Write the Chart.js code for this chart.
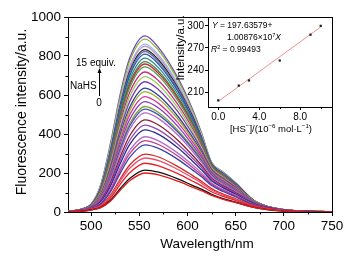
<!DOCTYPE html>
<html>
<head>
<meta charset="utf-8">
<script src="https://cdn.jsdelivr.net/npm/chart.js@4.4.0/dist/chart.umd.min.js"></script>
<style>
  html, body { margin:0; padding:0; background:#fff; }
  #wrap { position:relative; width:356px; height:260px; }
  #wrap canvas { position:absolute; left:0; top:0; }
</style>
</head>
<body>
<div id="wrap">
  <canvas id="main" width="356" height="260"></canvas>
  <canvas id="inset" width="356" height="260"></canvas>
</div>
<script>
// ---------- Data ----------
const wavelengths = [476, 490, 500, 510, 520, 530, 540, 556, 570, 590, 605, 615, 625, 637, 650, 670, 700, 750];

// emission spectra, 0 -> 15 equiv. NaHS (bottom to top)
const spectra = [
  [1, 4, 10, 22, 55, 110, 160, 200, 190, 158, 128, 108, 85, 65, 48, 22, 5, 0],
  [1, 4, 11, 24, 60, 119, 172, 215, 204, 170, 137, 116, 91, 69, 51, 23, 5, 0],
  [1, 5, 12, 28, 71, 140, 201, 250, 237, 197, 159, 133, 104, 80, 59, 27, 6, 0],
  [1, 6, 14, 32, 80, 156, 224, 277, 263, 218, 176, 147, 113, 87, 64, 29, 7, 0],
  [1, 6, 15, 34, 86, 168, 241, 297, 282, 233, 188, 156, 120, 92, 68, 31, 7, 0],
  [2, 7, 17, 41, 103, 197, 280, 344, 326, 270, 216, 179, 136, 105, 77, 34, 8, 0],
  [2, 7, 18, 44, 110, 211, 299, 366, 346, 287, 229, 189, 143, 111, 82, 36, 8, 0],
  [2, 7, 19, 47, 118, 224, 316, 386, 365, 302, 242, 198, 149, 115, 85, 37, 8, 0],
  [2, 8, 20, 52, 131, 246, 346, 421, 398, 329, 262, 214, 160, 124, 91, 40, 9, 0],
  [2, 8, 21, 56, 140, 263, 368, 446, 421, 348, 277, 226, 167, 130, 95, 41, 9, 0],
  [2, 9, 23, 60, 150, 280, 391, 472, 446, 368, 292, 237, 175, 135, 100, 43, 9, 0],
  [2, 10, 24, 66, 165, 304, 423, 508, 479, 395, 313, 252, 184, 143, 106, 45, 10, 0],
  [2, 10, 25, 69, 173, 318, 440, 528, 498, 410, 325, 261, 190, 147, 109, 46, 10, 0],
  [2, 10, 25, 71, 178, 327, 452, 541, 510, 420, 332, 267, 193, 150, 110, 47, 10, 0],
  [2, 10, 27, 75, 188, 345, 474, 566, 533, 439, 346, 277, 199, 155, 114, 48, 11, 0],
  [2, 11, 28, 80, 200, 363, 498, 592, 557, 458, 361, 288, 204, 160, 118, 49, 11, 0],
  [2, 11, 28, 85, 210, 381, 520, 617, 581, 477, 375, 297, 210, 165, 121, 50, 11, 1],
  [3, 11, 29, 88, 218, 394, 537, 635, 597, 491, 385, 305, 214, 168, 123, 51, 11, 1],
  [3, 12, 31, 94, 233, 418, 566, 668, 627, 515, 403, 317, 220, 174, 128, 51, 11, 1],
  [3, 12, 32, 99, 246, 437, 591, 694, 652, 534, 418, 327, 226, 178, 130, 53, 12, 1],
  [3, 13, 33, 103, 256, 454, 613, 718, 673, 552, 431, 336, 230, 182, 134, 53, 11, 1],
  [2, 13, 33, 108, 269, 474, 637, 744, 698, 571, 445, 345, 234, 185, 136, 54, 12, 1],
  [2, 14, 34, 111, 276, 486, 651, 759, 711, 583, 453, 351, 237, 187, 137, 54, 11, 1],
  [2, 14, 35, 113, 282, 495, 662, 771, 722, 591, 460, 355, 238, 190, 139, 54, 12, 1],
  [2, 13, 36, 117, 291, 508, 679, 789, 739, 605, 469, 361, 241, 192, 140, 54, 12, 1],
  [2, 14, 36, 121, 301, 525, 699, 810, 758, 620, 480, 369, 244, 194, 143, 55, 12, 1],
  [2, 14, 37, 123, 308, 535, 712, 823, 770, 630, 487, 373, 246, 196, 144, 55, 12, 1],
  [2, 14, 37, 125, 313, 542, 721, 833, 780, 637, 493, 377, 247, 197, 145, 55, 12, 1],
  [3, 14, 37, 128, 321, 556, 737, 850, 795, 649, 502, 383, 249, 200, 146, 55, 12, 1],
  [3, 15, 38, 131, 327, 565, 747, 861, 805, 658, 507, 386, 251, 201, 147, 55, 12, 1],
  [3, 15, 39, 137, 341, 585, 773, 887, 828, 677, 521, 395, 254, 204, 149, 55, 12, 1],
  [3, 15, 40, 140, 349, 599, 788, 903, 843, 688, 529, 399, 255, 205, 150, 55, 12, 1]
];

const xTicks = [500, 550, 600, 650, 700, 750];
const xMinor = [525, 575, 625, 675, 725];
const yTicks = [0, 200, 400, 600, 800, 1000];
const yMinor = [100, 300, 500, 700, 900];

// inset: linear fit
const concX = [0, 2, 3, 6, 9, 10];
const intensity = [199, 219, 226, 253, 288, 300];
const fitX = [0, 10];
const fitY = [197.6, 298.5];
const insetXTicks = [0, 4, 8];
const insetXMinor = [2, 6, 10];
const insetYTicks = [210, 240, 270, 300];

// ---------- Styles ----------
const FONT = '"Liberation Sans", Arial, Helvetica, sans-serif';
const lineColors = [
  '#e31a1c', '#111111', '#e8202a', '#e8506a', '#d42a2a', '#3442a8', '#c8388c', '#b070c8',
  '#2a2a8c', '#9048b0', '#8c1c30', '#b868c8', '#3c54b4', '#86a034', '#8a3cbc', '#cc3898',
  '#a0aa30', '#2c3c9c', '#7c40a8', '#98cc58', '#c42c84', '#48a048', '#c82840', '#3c8c3c',
  '#2a8a8c', '#2c52b0', '#687898', '#181818', '#d090c8', '#80c8e0', '#a0b040', '#6448c0'
];

// ---------- Helpers ----------
function richText(ctx, parts, x, y, size, align){
  const fontFor = p => `${p.i ? 'italic ' : ''}${p.sup ? size*0.65 : size}px ${FONT}`;
  let total = 0;
  parts.forEach(p => { ctx.font = fontFor(p); total += ctx.measureText(p.t).width; });
  let cx = align === 'center' ? x - total/2 : x;
  parts.forEach(p => {
    ctx.font = fontFor(p);
    ctx.fillText(p.t, cx, p.sup ? y - size*0.4 : y);
    cx += ctx.measureText(p.t).width;
  });
}

function minorTicks(ctx, chart, xs, ys, len){
  const a = chart.chartArea, sx = chart.scales.x, sy = chart.scales.y;
  ctx.beginPath();
  xs.forEach(v => { const p = Math.round(sx.getPixelForValue(v)) + 0.5; ctx.moveTo(p, a.bottom); ctx.lineTo(p, a.bottom + len); });
  ys.forEach(v => { const p = Math.round(sy.getPixelForValue(v)) + 0.5; ctx.moveTo(a.left, p); ctx.lineTo(a.left - len, p); });
  ctx.stroke();
}

function boxTopRight(ctx, a){
  ctx.beginPath();
  ctx.moveTo(a.left, a.top + 0.5); ctx.lineTo(a.right + 0.5, a.top + 0.5);
  ctx.lineTo(a.right + 0.5, a.bottom);
  ctx.stroke();
}

// ---------- Main chart ----------
const mainDecor = {
  id: 'mainDecor',
  afterDraw(chart){
    const ctx = chart.ctx, a = chart.chartArea;
    ctx.save();
    ctx.strokeStyle = '#000'; ctx.fillStyle = '#000'; ctx.lineWidth = 1;
    boxTopRight(ctx, a);
    minorTicks(ctx, chart, xMinor, yMinor, 2.5);

    ctx.textBaseline = 'alphabetic';
    richText(ctx, [{t:'Wavelength/nm'}], 207, 248, 13.5, 'center');
    ctx.save();
    ctx.translate(26, 112); ctx.rotate(-Math.PI/2);
    richText(ctx, [{t:'Fluorescence intensity/a.u.'}], 0, 0, 14, 'center');
    ctx.restore();

    // titration note
    richText(ctx, [{t:'15 equiv.'}], 76, 66, 10, 'left');
    richText(ctx, [{t:'NaHS'}], 70, 89, 10, 'left');
    richText(ctx, [{t:'0'}], 99, 106, 10, 'center');
    ctx.beginPath(); ctx.moveTo(99.5, 96); ctx.lineTo(99.5, 72); ctx.stroke();
    ctx.beginPath(); ctx.moveTo(99.5, 68); ctx.lineTo(97.5, 73); ctx.lineTo(101.5, 73); ctx.closePath(); ctx.fill();
    ctx.restore();
  }
};

new Chart(document.getElementById('main'), {
  type: 'line',
  data: {
    datasets: spectra.map((ys, i) => ({
      data: ys.map((y, j) => ({ x: wavelengths[j], y })),
      borderColor: lineColors[i],
      borderWidth: 1.3,
      pointRadius: 0,
      cubicInterpolationMode: 'monotone',
      fill: false
    }))
  },
  options: {
    responsive: false, animation: false, events: [],
    layout: { padding: { top: 17, right: 24, left: 0, bottom: 0 } },
    plugins: { legend: { display: false }, tooltip: { enabled: false } },
    scales: {
      x: {
        type: 'linear', min: 476, max: 750,
        afterBuildTicks: s => { s.ticks = xTicks.map(v => ({ value: v })); },
        afterFit: s => { s.height = 48; },
        ticks: { color: '#000', font: { family: FONT, size: 13.5 }, padding: 2, maxRotation: 0, callback: v => String(v) },
        grid: { drawOnChartArea: false, tickLength: 4, color: '#000' },
        border: { color: '#000', width: 1 }
      },
      y: {
        type: 'linear', min: 0, max: 1000,
        afterBuildTicks: s => { s.ticks = yTicks.map(v => ({ value: v })); },
        afterFit: s => { s.width = 68; },
        ticks: { color: '#000', font: { family: FONT, size: 13.5 }, padding: 3, callback: v => String(v) },
        grid: { drawOnChartArea: false, tickLength: 4, color: '#000' },
        border: { color: '#000', width: 1 }
      }
    }
  },
  plugins: [mainDecor]
});

// ---------- Inset ----------
const insetDecor = {
  id: 'insetDecor',
  afterDraw(chart){
    const ctx = chart.ctx, a = chart.chartArea;
    ctx.save();
    ctx.strokeStyle = '#000'; ctx.fillStyle = '#000'; ctx.lineWidth = 1;
    boxTopRight(ctx, a);
    minorTicks(ctx, chart, insetXMinor, [], 2);
    ctx.textBaseline = 'alphabetic';
    richText(ctx, [{t:'Y', i:true}, {t:' = 197.63579+'}], 212, 28, 8.5, 'left');
    richText(ctx, [{t:'1.00876\u00d710'}, {t:'7', sup:true}, {t:'X', i:true}], 227, 40, 8.5, 'left');
    richText(ctx, [{t:'R', i:true}, {t:'2', sup:true}, {t:' = 0.99493'}], 211, 52, 8.5, 'left');
    richText(ctx, [{t:'[HS'}, {t:'\u2212', sup:true}, {t:']/(10'}, {t:'\u22126', sup:true}, {t:' mol\u00b7L'}, {t:'\u22121', sup:true}, {t:')'}], 271, 132, 9.5, 'center');
    ctx.save();
    ctx.translate(184, 48); ctx.rotate(-Math.PI/2);
    richText(ctx, [{t:'Intensity/a.u.'}], 0, 0, 11.5, 'center');
    ctx.restore();
    ctx.restore();
  }
};

new Chart(document.getElementById('inset'), {
  type: 'scatter',
  data: {
    datasets: [
      { data: concX.map((x, i) => ({ x, y: intensity[i] })), pointStyle: 'rect', pointRadius: 1.6,
        backgroundColor: '#222', borderColor: '#222', borderWidth: 0 },
      { data: fitX.map((x, i) => ({ x, y: fitY[i] })), showLine: true, borderColor: '#f09090',
        borderWidth: 1, pointRadius: 0 }
    ]
  },
  options: {
    responsive: false, animation: false, events: [],
    layout: { padding: { left: 168, top: 17, right: 24, bottom: 128 } },
    plugins: { legend: { display: false }, tooltip: { enabled: false } },
    scales: {
      x: {
        type: 'linear', min: -1, max: 11.1,
        afterBuildTicks: s => { s.ticks = insetXTicks.map(v => ({ value: v })); },
        afterFit: s => { s.height = 25; },
        ticks: { color: '#000', font: { family: FONT, size: 10 }, padding: 1, maxRotation: 0, callback: v => v.toFixed(1) },
        grid: { drawOnChartArea: false, tickLength: 3, color: '#000' },
        border: { color: '#000', width: 1 }
      },
      y: {
        type: 'linear', min: 190, max: 312,
        afterBuildTicks: s => { s.ticks = insetYTicks.map(v => ({ value: v })); },
        afterFit: s => { s.width = 40; },
        ticks: { color: '#000', font: { family: FONT, size: 10 }, padding: 1, callback: v => String(v) },
        grid: { drawOnChartArea: false, tickLength: 3, color: '#000' },
        border: { color: '#000', width: 1 }
      }
    }
  },
  plugins: [insetDecor]
});
</script>
</body>
</html>
